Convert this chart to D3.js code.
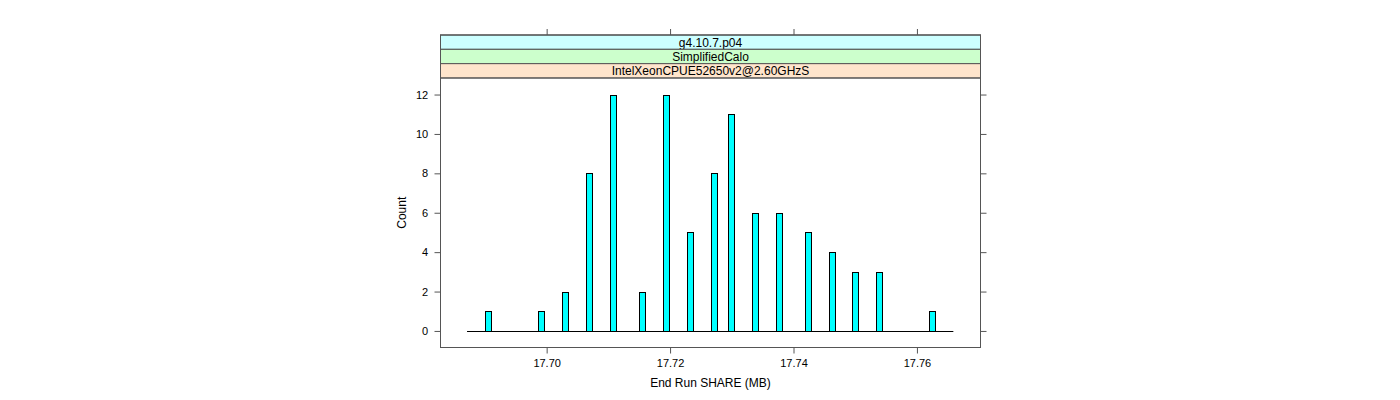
<!DOCTYPE html>
<html><head><meta charset="utf-8">
<script src="https://cdn.jsdelivr.net/npm/d3@7"></script>
<style>body{margin:0;background:#fff}svg{display:block}text{font-family:"Liberation Sans",Arial,sans-serif}</style>
</head><body>
<svg id="c" width="1400" height="400"></svg>
<script>
const binValues = [17.6905,17.6991,17.7030,17.7069,17.7107,17.7155,17.7194,17.7232,17.7271,17.7299,17.7337,17.7376,17.7424,17.7462,17.7500,17.7539,17.7625];
const counts    = [1,1,2,8,12,2,12,5,8,11,6,6,5,4,3,3,1];
const baselineRange = [17.6871, 17.7659];
const xTicks = [17.70,17.72,17.74,17.76];
const yTicks = [0,2,4,6,8,10,12];
const stripLabels = ["g4.10.7.p04","SimplifiedCalo","IntelXeonCPUE52650v2@2.60GHzS"];
const stripColors = ["#CCFFFF","#CCFFCC","#FFE5CC"];
const xDomain = [17.6828, 17.7703];
const yDomain = [-0.84, 12.84];

const svg = d3.select("#c");
const L = 440.5, R = 980.5, T = 35, stripH = 14.33, PT = T + 3*stripH, B = 347.5;
const x = d3.scaleLinear().domain(xDomain).range([L, R]);
const y = d3.scaleLinear().domain(yDomain).range([B, PT]);
const axCol = "#555";

// strips
stripLabels.forEach((s,i)=>{
  const yy = T + i*stripH;
  svg.append("rect").attr("x",L).attr("y",yy).attr("width",R-L).attr("height",stripH)
    .attr("fill",stripColors[i]).attr("stroke", i===0? "#333":"#555").attr("stroke-width",1);
  svg.append("text").attr("x",(L+R)/2).attr("y",yy+stripH/2+4.6).attr("text-anchor","middle")
    .attr("font-size",12).attr("fill","#000").text(s);
});

// baseline
svg.append("line").attr("x1",x(baselineRange[0])).attr("x2",x(baselineRange[1]))
  .attr("y1",Math.round(y(0))+0.5).attr("y2",Math.round(y(0))+0.5).attr("stroke","#000").attr("stroke-width",1);

// bars
const bw = 6;
svg.selectAll("rect.bar").data(binValues.map((v,i)=>({v,c:counts[i]}))).enter().append("rect")
  .attr("class","bar")
  .attr("x",d=>Math.round(x(d.v)-bw/2)+0.5)
  .attr("y",d=>Math.round(y(d.c))+0.5)
  .attr("width",bw)
  .attr("height",d=>Math.round(y(0))-Math.round(y(d.c)))
  .attr("fill","#00FFFF").attr("stroke","#000").attr("stroke-width",1);

// panel border
svg.append("rect").attr("x",L).attr("y",PT).attr("width",R-L).attr("height",B-PT)
  .attr("fill","none").attr("stroke",axCol).attr("stroke-width",1);
svg.append("rect").attr("x",L).attr("y",T).attr("width",R-L).attr("height",B-T)
  .attr("fill","none").attr("stroke",axCol).attr("stroke-width",1);

// axes
const fmtX = d3.format(".2f");
const gBottom = svg.append("g").attr("transform",`translate(0,${B})`)
  .call(d3.axisBottom(x).tickValues(xTicks).tickFormat(fmtX).tickSize(6).tickSizeOuter(0));
const gTop = svg.append("g").attr("transform",`translate(0,${T})`)
  .call(d3.axisTop(x).tickValues(xTicks).tickFormat("").tickSize(6).tickSizeOuter(0));
const gLeft = svg.append("g").attr("transform",`translate(${L},0)`)
  .call(d3.axisLeft(y).tickValues(yTicks).tickSize(6).tickSizeOuter(0));
const gRight = svg.append("g").attr("transform",`translate(${R},0)`)
  .call(d3.axisRight(y).tickValues(yTicks).tickFormat("").tickSize(6).tickSizeOuter(0));
[gBottom,gTop,gLeft,gRight].forEach(g=>{
  g.select(".domain").remove();
  g.selectAll(".tick line").attr("stroke",axCol);
  g.selectAll(".tick text").attr("font-size",11).attr("fill","#000").attr("font-family","Liberation Sans, Arial, sans-serif");
});
gBottom.selectAll(".tick text").attr("dy","0.95em");
gLeft.selectAll(".tick text").attr("dx","-0.3em");

// axis labels
svg.append("text").attr("x",(L+R)/2).attr("y",387).attr("text-anchor","middle").attr("font-size",12).text("End Run SHARE (MB)");
svg.append("text").attr("transform",`translate(406,${(PT+B)/2}) rotate(-90)`).attr("text-anchor","middle").attr("font-size",12).text("Count");
</script>
</body></html>
